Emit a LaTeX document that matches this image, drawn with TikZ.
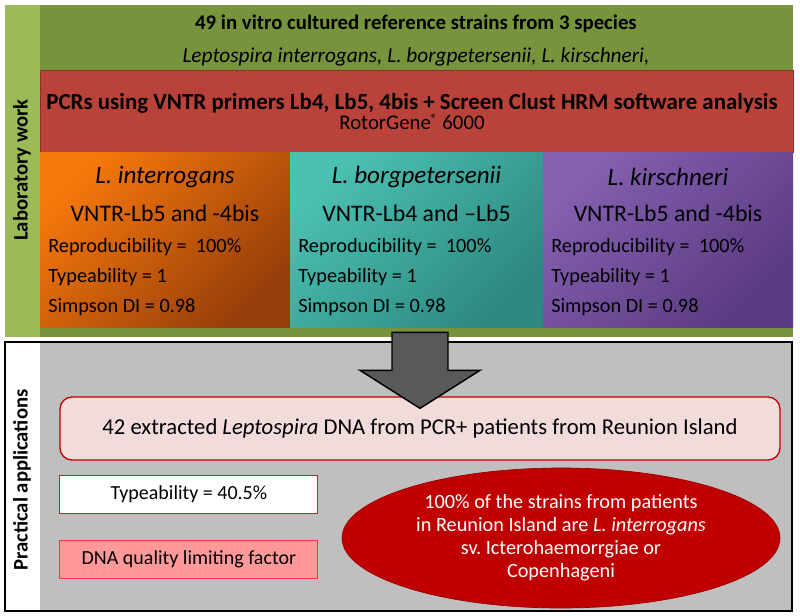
\documentclass[tikz,border=0pt]{standalone}
\usepackage{fontspec}
\setmainfont{Carlito}
\usetikzlibrary{positioning,shapes.geometric,calc}
\definecolor{labgreen}{RGB}{155,187,89}
\definecolor{olivegreen}{RGB}{119,147,60}
\definecolor{pcrred}{RGB}{185,66,58}
\definecolor{panelgray}{RGB}{191,191,191}
\definecolor{arrowgray}{RGB}{89,89,89}
\definecolor{boxpink}{RGB}{242,220,219}
\definecolor{boxred}{RGB}{192,0,0}
\definecolor{typborder}{RGB}{149,55,53}
\definecolor{dnafill}{RGB}{255,153,153}
\definecolor{dnaborder}{RGB}{240,60,60}
\definecolor{orngA}{RGB}{245,120,12}
\definecolor{orngB}{RGB}{150,62,10}
\definecolor{tealA}{RGB}{76,192,178}
\definecolor{tealB}{RGB}{45,136,128}
\definecolor{purpA}{RGB}{132,96,176}
\definecolor{purpB}{RGB}{90,58,128}

\begin{document}
\begin{tikzpicture}[x=0.75pt, y=-0.75pt,
  panel/.style={anchor=north west, inner sep=0pt, outer sep=0pt},
  colbox/.style={panel, minimum height=131.25pt, shading angle=45},
  colhead/.style={font=\fontsize{18.8}{22}\selectfont\itshape},
  colsub/.style={font=\fontsize{17.8}{20}\selectfont},
  colline/.style={anchor=west, inner sep=0pt, font=\fontsize{15.2}{18}\selectfont},
  sidelabel/.style={rotate=90, font=\fontsize{15.5}{18}\selectfont\bfseries},
  smallbox/.style={inner sep=0pt, minimum width=193.5pt, minimum height=28.5pt, line width=0.8pt, font=\fontsize{15}{18}\selectfont},
  bigarrow/.style={draw=black, line width=1.1pt, fill=arrowgray, line join=miter}]
\useasboundingbox (0,0) rectangle (800,615);
% laboratory work
\node[panel, fill=labgreen, minimum width=591pt, minimum height=249pt] (lab) at (5,5) {};
\node[panel, fill=olivegreen, minimum width=564.75pt, minimum height=249pt] (labin) at (40,5) {};
\node[font=\fontsize{15.6}{18}\selectfont\bfseries] (title) at (416,24) {49 in vitro cultured reference strains from 3 species};
\node[font=\fontsize{16}{18}\selectfont\itshape] (species) at (416,57) {Leptospira interrogans, L. borgpetersenii, L. kirschneri,};
\node[panel, fill=pcrred, draw=pcrred!75!black, line width=0.5pt, minimum width=564.75pt, minimum height=61.5pt] (pcr) at (40,70) {};
\node[font=\fontsize{17.2}{20}\selectfont\bfseries] (pcrtext) at (412,103) {PCRs using VNTR primers Lb4, Lb5, 4bis + Screen Clust HRM software analysis};
\node[font=\fontsize{15.6}{18}\selectfont] (rotor) at (412,122) {RotorGene{\fontsize{10}{10}\selectfont\raisebox{4pt}{®}} 6000};
\node[colbox, top color=orngA, bottom color=orngB, shading angle=45, minimum width=187.5pt] (orng) at (40,152) {};
\node[colbox, top color=tealA, bottom color=tealB, shading angle=45, minimum width=189.75pt] (teal) at (290,152) {};
\node[colbox, top color=purpA, bottom color=purpB, shading angle=45, minimum width=187.5pt] (purp) at (543,152) {};
\node[colhead] (orng-head) at ($(orng.north)+(0,25)$) {L. interrogans};
\node[colsub] (orng-vntr) at ($(orng.north)+(0,61)$) {VNTR-Lb5 and -4bis};
\node[colline] (orng-rep) at ($(orng.north west)+(8,95)$) {Reproducibility = \ 100\%};
\node[colline] (orng-typ) at ($(orng.north west)+(8,125)$) {Typeability = 1};
\node[colline] (orng-sdi) at ($(orng.north west)+(8,155)$) {Simpson DI = 0.98};
\node[colhead] (teal-head) at ($(teal.north)+(0,25)$) {L. borgpetersenii};
\node[colsub] (teal-vntr) at ($(teal.north)+(0,61)$) {VNTR-Lb4 and --Lb5};
\node[colline] (teal-rep) at ($(teal.north west)+(8,95)$) {Reproducibility = \ 100\%};
\node[colline] (teal-typ) at ($(teal.north west)+(8,125)$) {Typeability = 1};
\node[colline] (teal-sdi) at ($(teal.north west)+(8,155)$) {Simpson DI = 0.98};
\node[colhead] (purp-head) at ($(purp.north)+(0,25)$) {L. kirschneri};
\node[colsub] (purp-vntr) at ($(purp.north)+(0,61)$) {VNTR-Lb5 and -4bis};
\node[colline] (purp-rep) at ($(purp.north west)+(8,95)$) {Reproducibility = \ 100\%};
\node[colline] (purp-typ) at ($(purp.north west)+(8,125)$) {Typeability = 1};
\node[colline] (purp-sdi) at ($(purp.north west)+(8,155)$) {Simpson DI = 0.98};
\node[sidelabel] (lablabel) at (22,170) {Laboratory work};
% practical applications
\node[panel, fill=white, minimum width=590.25pt, minimum height=201.75pt] (prac) at (5,342) {};
\node[panel, fill=panelgray, minimum width=563.6pt, minimum height=201.75pt] (pracin) at (40,342) {};
\draw[line width=0.9pt] (prac.north west) rectangle (prac.south east);
\node[sidelabel] (praclabel) at (22,480) {Practical applications};
\node[draw=boxred, line width=1pt, fill=boxpink, rounded corners=9pt, minimum width=540pt, minimum height=47.25pt, font=\fontsize{17}{20}\selectfont] (ext) at (420,428.5) {42 extracted \textit{Leptospira} DNA from PCR+ patients from Reunion Island};
\node[smallbox, draw=typborder, fill=white, below right=10.5pt and 0pt of ext.south west] (typ) {Typeability = 40.5\%};
\node[smallbox, draw=dnaborder, fill=dnafill, below=19.5pt of typ] (dna) {DNA quality limiting factor};
\node[ellipse, draw=boxred!80!black, line width=0.5pt, fill=boxred, inner sep=0pt, minimum width=328.5pt, minimum height=105pt, text=white, align=center, font=\fontsize{15.2}{17.25}\selectfont] (result) at (561,538) {100\% of the strains from patients\\in Reunion Island are \textit{L. interrogans}\\sv.\ Icterohaemorrgiae or\\Copenhageni};
\draw[bigarrow] ($(ext.north)+(-28,-64)$) -- ++(0,38) -- ++(-32,0) -- ($(ext.north)+(0,12)$) -- ($(ext.north)+(60,-26)$) -- ++(-32,0) -- ++(0,-38) -- cycle;
\end{tikzpicture}
\end{document}
